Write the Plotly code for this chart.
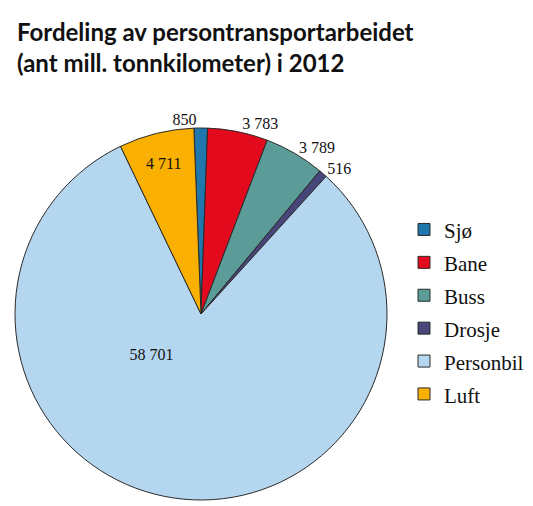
import plotly.graph_objects as go

categories = ["Sjø", "Bane", "Buss", "Drosje", "Personbil", "Luft"]
values = [850, 3783, 3789, 516, 58701, 4711]
colors = ["#1f77ad", "#e30a1e", "#5b9b98", "#48457a", "#b5d6ef", "#f9b000"]
text_pos = ["outside", "outside", "outside", "outside", "inside", "inside"]
title_text = "Fordeling av persontransportarbeidet<br>(ant mill. tonnkilometer) i 2012"

W, H = 533, 506
OFF = 8  # page body margin offset

serif = "Liberation Serif"
legend_labels = ["<span style='font-size:21px'>%s</span>" % c for c in categories]

NB = "\u00a0"
base_tpl = "%{value:,}"
# the big slice's label sits higher and further left in the reference
big_tpl = base_tpl + NB * 18 + ("<br>" + NB) * 5
templates = [base_tpl, base_tpl, base_tpl, base_tpl, big_tpl, base_tpl]

fig = go.Figure(
    go.Pie(
        labels=legend_labels,
        values=values,
        sort=False,
        direction="clockwise",
        rotation=-2.2,
        marker=dict(colors=colors, line=dict(color="#2a2a2a", width=1)),
        texttemplate=templates,
        textposition=text_pos,
        insidetextorientation="horizontal",
        textfont=dict(family=serif, size=16, color="#111"),
        outsidetextfont=dict(family=serif, size=16, color="#111"),
        insidetextfont=dict(family=serif, size=16, color="#111"),
        hoverinfo="skip",
        domain=dict(x=[(15 - OFF) / W, (387 - OFF) / W],
                    y=[(H - 500 + OFF) / H, (H - 128 + OFF) / H]),
    )
)

fig.add_annotation(
    text=title_text,
    xref="paper", yref="paper",
    x=(15 - OFF) / W, y=1 - (15 - OFF) / H,
    xanchor="left", yanchor="top", align="left",
    showarrow=False,
    font=dict(family="Lato", size=24, color="#111", weight="bold"),
)

fig.update_layout(
    width=W,
    height=H,
    margin=dict(l=0, r=0, t=0, b=0),
    paper_bgcolor="white",
    separators=", ",
    legend=dict(
        x=(404 - OFF) / W,
        xanchor="left",
        y=1 - (208 - OFF) / H,
        yanchor="top",
        font=dict(family=serif, size=23, color="#111"),
        bgcolor="rgba(0,0,0,0)",
    ),
)

fig.write_html("out.html")
